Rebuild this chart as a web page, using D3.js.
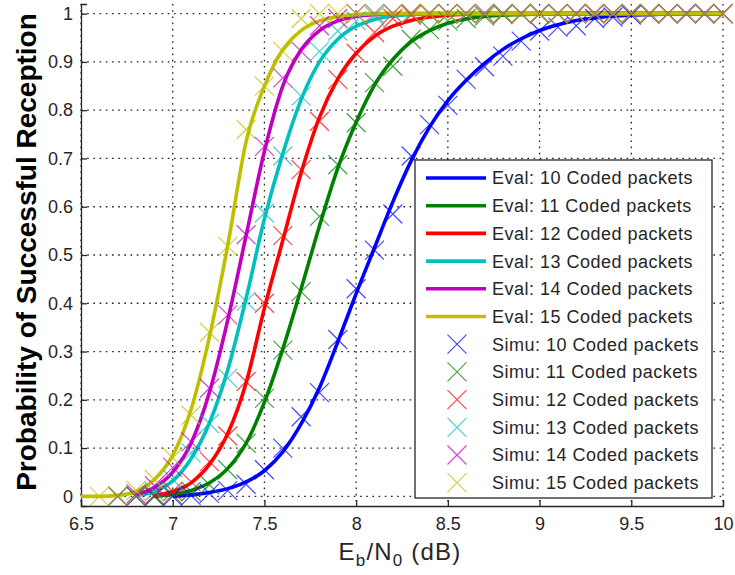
<!DOCTYPE html>
<html>
<head>
<meta charset="utf-8">
<script src="https://cdn.jsdelivr.net/npm/d3@7/dist/d3.min.js"></script>
<style>
  html, body { margin: 0; padding: 0; background: #fff; }
  svg { display: block; font-family: "Liberation Sans", Arial, sans-serif; }
</style>
</head>
<body>
<svg id="chart" width="735" height="575"></svg>
<script>
// ---------- DATA ----------
const snr = [6.5, 6.6, 6.7, 6.8, 6.9, 7.0, 7.1, 7.2, 7.3, 7.4, 7.5, 7.6, 7.7, 7.8, 7.9,
             8.0, 8.1, 8.2, 8.3, 8.4, 8.5, 8.6, 8.7, 8.8, 8.9, 9.0, 9.1, 9.2, 9.3, 9.4,
             9.5, 9.6, 9.7, 9.8, 9.9, 10.0];

const seriesNames = ["10 Coded packets", "11 Coded packets", "12 Coded packets",
                     "13 Coded packets", "14 Coded packets", "15 Coded packets"];
const seriesColors = ["#0000ff", "#008000", "#ff0000", "#00bfbf", "#bf00bf", "#bfbf00"];

// Evaluated (analytical) curves, one value per snr entry (null = not plotted)
const eval10 = [null, null, null, null, null, 0, 0.003, 0.008, 0.016, 0.03, 0.053, 0.092, 0.15, 0.225, 0.32,
                0.42, 0.515, 0.61, 0.695, 0.765, 0.82, 0.862, 0.897, 0.926, 0.948, 0.965, 0.977, 0.986, 0.991, 0.995,
                0.997, 0.998, 0.999, 1, 1, 1];
const eval11 = [null, null, null, null, 0, 0.004, 0.012, 0.028, 0.058, 0.11, 0.195, 0.305, 0.43, 0.56, 0.68,
                0.775, 0.852, 0.905, 0.942, 0.965, 0.98, 0.989, 0.994, 0.997, 0.998, 0.999, 1, 1, 1, 1,
                1, 1, 1, 1, 1, 1];
const eval12 = [null, null, null, null, 0.002, 0.01, 0.028, 0.066, 0.13, 0.235, 0.39, 0.53, 0.67, 0.785, 0.865,
                0.918, 0.953, 0.974, 0.986, 0.993, 0.997, 0.999, 1, 1, 1, 1, 1, 1, 1, 1,
                1, 1, 1, 1, 1, 1];
const eval13 = [null, null, null, 0.002, 0.01, 0.032, 0.078, 0.152, 0.262, 0.41, 0.575, 0.71, 0.822, 0.9, 0.947,
                0.974, 0.988, 0.995, 0.998, 1, 1, 1, 1, 1, 1, 1, 1, 1, 1, 1,
                1, 1, 1, 1, 1, 1];
const eval14 = [null, null, null, 0.004, 0.018, 0.05, 0.11, 0.215, 0.365, 0.54, 0.715, 0.85, 0.925, 0.965, 0.985,
                0.994, 0.998, 1, 1, 1, 1, 1, 1, 1, 1, 1, 1, 1, 1, 1,
                1, 1, 1, 1, 1, 1];
const eval15 = [0, 0, 0.002, 0.01, 0.035, 0.085, 0.18, 0.33, 0.52, 0.735, 0.85, 0.925, 0.965, 0.985, 0.994,
                0.998, 1, 1, 1, 1, 1, 1, 1, 1, 1, 1, 1, 1, 1, 1,
                1, 1, 1, 1, 1, 1];

// Simulated points
const simu10 = [null, null, null, null, 0, 0, 0.002, 0.006, 0.012, 0.025, 0.055, 0.10, 0.165, 0.215, 0.325,
                0.43, 0.51, 0.585, 0.705, 0.77, 0.81, 0.864, 0.89, 0.912, 0.943, 0.964, 0.972, 0.975, 0.99, 0.993,
                0.997, 0.999, 1, 1, 1, 1];
const simu11 = [null, null, null, 0, 0, 0.003, 0.01, 0.024, 0.055, 0.11, 0.203, 0.303, 0.424, 0.58, 0.687,
                0.774, 0.857, 0.891, 0.947, 0.967, 0.985, 0.99, 0.995, 0.998, 1, 1, 1, 1, 1, 1,
                1, 1, 1, 1, 1, 1];
const simu12 = [null, null, null, 0, 0.003, 0.01, 0.03, 0.072, 0.125, 0.238, 0.40, 0.54, 0.677, 0.777, 0.864,
                0.918, 0.961, 0.99, 0.997, 1, 1, 1, 1, 1, 1, 1, 1, 1, 1, 1,
                1, 1, 1, 1, 1, 1];
const simu13 = [null, null, 0, 0.002, 0.01, 0.035, 0.09, 0.151, 0.245, 0.404, 0.587, 0.705, 0.829, 0.922, 0.964,
                0.985, 0.995, 1, 1, 1, 1, 1, 1, 1, 1, 1, 1, 1, 1, 1,
                1, 1, 1, 1, 1, 1];
const simu14 = [null, null, 0, 0.005, 0.022, 0.06, 0.113, 0.224, 0.376, 0.542, 0.725, 0.867, 0.922, 0.975, 0.99,
                1, 1, 1, 1, 1, 1, 1, 1, 1, 1, 1, 1, 1, 1, 1,
                1, 1, 1, 1, 1, 1];
const simu15 = [null, 0, 0.002, 0.012, 0.035, 0.08, 0.168, 0.34, 0.518, 0.76, 0.85, 0.922, 0.99, 1, 1,
                1, 1, 1, 1, 1, 1, 1, 1, 1, 1, 1, 1, 1, 1, 1,
                1, 1, 1, 1, 1, 1];

const xTickValues = [6.5, 7, 7.5, 8, 8.5, 9, 9.5, 10];
const yTickValues = [0, 0.1, 0.2, 0.3, 0.4, 0.5, 0.6, 0.7, 0.8, 0.9, 1];
const xTickLabels = ["6.5", "7", "7.5", "8", "8.5", "9", "9.5", "10"];
const yTickLabels = ["0", "0.1", "0.2", "0.3", "0.4", "0.5", "0.6", "0.7", "0.8", "0.9", "1"];

const evalSeries = [eval10, eval11, eval12, eval13, eval14, eval15];
const simuSeries = [simu10, simu11, simu12, simu13, simu14, simu15];

// ---------- LAYOUT ----------
const svg = d3.select("#chart");
const L = 81, R = 723, T = 4, B = 506;
const x = d3.scaleLinear().domain([6.5, 10]).range([L, R]);
const y = d3.scaleLinear().domain([-0.02, 1.02]).range([B, T]);
const textColor = "#262626";

// grid
const grid = svg.append("g");
grid.selectAll("line.vg").data(xTickValues).join("line")
  .attr("x1", d => x(d)).attr("x2", d => x(d)).attr("y1", T).attr("y2", B)
  .attr("stroke", "#222").attr("stroke-width", 1.3).attr("stroke-dasharray", "1.6,4.6");
grid.selectAll("line.hg").data(yTickValues).join("line")
  .attr("x1", L).attr("x2", R).attr("y1", d => y(d)).attr("y2", d => y(d))
  .attr("stroke", "#222").attr("stroke-width", 1.3).attr("stroke-dasharray", "1.6,4.6");

// axes
const xAxis = d3.axisBottom(x).tickValues(xTickValues).tickSize(-6)
  .tickFormat((d, i) => xTickLabels[i]);
const gx = svg.append("g").attr("transform", `translate(0,${B})`).call(xAxis);
gx.select(".domain").attr("stroke", textColor).attr("stroke-width", 1.3);
gx.selectAll(".tick line").attr("stroke", textColor).attr("stroke-width", 1.3);
gx.selectAll(".tick text").attr("fill", textColor).attr("font-size", 18)
  .attr("font-family", "Liberation Sans, Arial, sans-serif").attr("dy", 0).attr("y", 24);

const yAxis = d3.axisLeft(y).tickValues(yTickValues).tickSize(-6)
  .tickFormat((d, i) => yTickLabels[i]);
const gy = svg.append("g").attr("transform", `translate(${L},0)`).call(yAxis);
gy.select(".domain").attr("stroke", textColor).attr("stroke-width", 1.3);
gy.selectAll(".tick line").attr("stroke", textColor).attr("stroke-width", 1.3);
gy.selectAll(".tick text").attr("fill", textColor).attr("font-size", 18)
  .attr("font-family", "Liberation Sans, Arial, sans-serif").attr("x", -8);

// eval lines
const line = d3.line()
  .defined(d => d[1] !== null)
  .x(d => x(d[0])).y(d => y(d[1]))
  .curve(d3.curveMonotoneX);
const linesG = svg.append("g");
evalSeries.forEach((vals, k) => {
  const pts = snr.map((s, i) => [s, vals[i]]);
  linesG.append("path").datum(pts).attr("d", line)
    .attr("fill", "none").attr("stroke", seriesColors[k])
    .attr("stroke-width", 3.6).attr("stroke-linejoin", "round");
});

// simu markers
const m = 9.5;
const xPath = (cx, cy) => `M${cx - m},${cy - m}L${cx + m},${cy + m}M${cx - m},${cy + m}L${cx + m},${cy - m}`;
const marksG = svg.append("g");
simuSeries.forEach((vals, k) => {
  const pts = snr.map((s, i) => [s, vals[i]]).filter(d => d[1] !== null);
  marksG.append("g").selectAll("path").data(pts).join("path")
    .attr("d", d => xPath(x(d[0]), y(d[1])))
    .attr("fill", "none").attr("stroke", seriesColors[k])
    .attr("stroke-opacity", 0.72).attr("stroke-width", 1.2);
});

// legend
const lg = svg.append("g");
lg.append("rect").attr("x", 415).attr("y", 160).attr("width", 297).attr("height", 338)
  .attr("fill", "#fff").attr("stroke", "#262626").attr("stroke-width", 1.3);
const rowY = i => 178 + i * 27.7;
seriesNames.forEach((n, k) => {
  lg.append("line").attr("x1", 426).attr("x2", 486).attr("y1", rowY(k)).attr("y2", rowY(k))
    .attr("stroke", seriesColors[k]).attr("stroke-width", 3.6);
  lg.append("text").attr("x", 492).attr("y", rowY(k)).attr("dy", "0.36em")
    .attr("font-size", 18).attr("letter-spacing", 0.5).attr("fill", textColor)
    .text("Eval: " + n);
});
seriesNames.forEach((n, k) => {
  const yy = rowY(k + 6);
  lg.append("path").attr("d", xPath(457, yy)).attr("fill", "none")
    .attr("stroke", seriesColors[k]).attr("stroke-opacity", 0.72).attr("stroke-width", 1.2);
  lg.append("text").attr("x", 492).attr("y", yy).attr("dy", "0.36em")
    .attr("font-size", 18).attr("letter-spacing", 0.5).attr("fill", textColor)
    .text("Simu: " + n);
});

// axis labels
const xl = svg.append("text").attr("x", 400).attr("y", 560).attr("text-anchor", "middle")
  .attr("font-size", 24).attr("letter-spacing", 1.2).attr("fill", textColor);
xl.append("tspan").text("E");
xl.append("tspan").attr("font-size", 17).attr("dy", 6).text("b");
xl.append("tspan").attr("dy", -6).text("/N");
xl.append("tspan").attr("font-size", 17).attr("dy", 6).text("0");
xl.append("tspan").attr("dy", -6).text(" (dB)");

svg.append("text").attr("transform", "translate(36,252) rotate(-90)")
  .attr("text-anchor", "middle").attr("font-size", 28).attr("font-weight", "bold")
  .attr("fill", "#000").text("Probability of Successful Reception");
</script>
</body>
</html>
